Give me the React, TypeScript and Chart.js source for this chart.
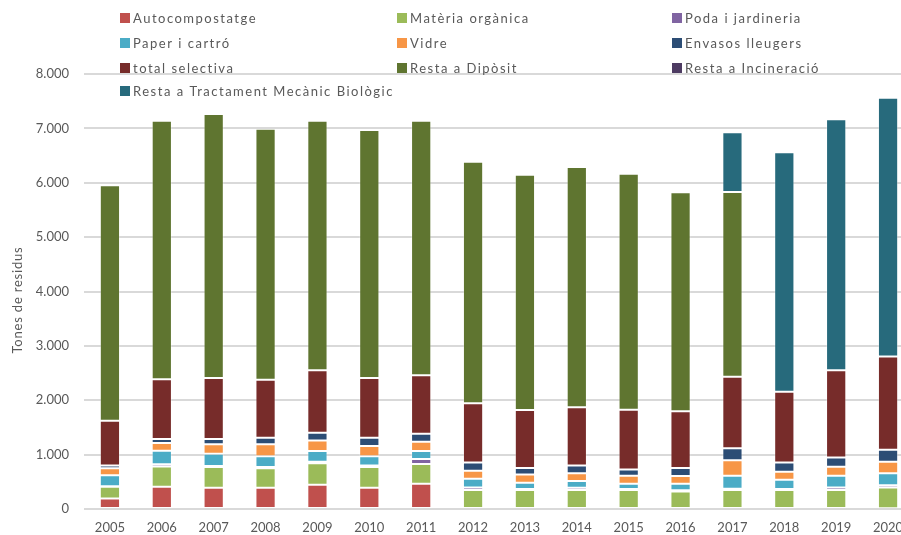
import React, { useEffect, useRef } from "react";
import { Chart, registerables } from "chart.js";

Chart.register(...registerables);

const years = ["2005", "2006", "2007", "2008", "2009", "2010", "2011", "2012", "2013", "2014", "2015", "2016", "2017", "2018", "2019", "2020"];

const autocompostatge = [195, 410, 390, 390, 445, 390, 463, 0, 0, 0, 0, 0, 0, 0, 0, 15];
const materiaOrganica = [213, 372, 384, 360, 396, 384, 366, 348, 348, 348, 348, 323, 348, 348, 348, 380];
const podaJardineria = [12, 43, 18, 24, 30, 24, 91, 49, 18, 43, 18, 24, 24, 18, 49, 43];
const paperCartro = [201, 244, 226, 195, 195, 171, 146, 159, 116, 122, 98, 116, 238, 171, 213, 220];
const vidre = [128, 146, 171, 220, 195, 189, 171, 146, 152, 146, 146, 146, 287, 146, 165, 213];
const envasosLleugers = [49, 73, 98, 122, 140, 152, 146, 152, 122, 140, 116, 146, 220, 171, 171, 220];
const totalSelectiva = [825, 1098, 1122, 1067, 1150, 1099, 1076, 1090, 1065, 1071, 1100, 1042, 1316, 1303, 1605, 1712];
const restaDiposit = [4329, 4756, 4855, 4616, 4590, 4561, 4682, 4443, 4327, 4420, 4340, 4027, 3397, 0, 0, 0];
const restaIncineracio = [0, 0, 0, 0, 0, 0, 0, 0, 0, 0, 0, 0, 0, 0, 0, 0];
const restaTMB = [0, 0, 0, 0, 0, 0, 0, 0, 0, 0, 0, 0, 1098, 4403, 4616, 4758];

const seriesNames = [
  "Autocompostatge",
  "Matèria orgànica",
  "Poda i jardineria",
  "Paper i cartró",
  "Vidre",
  "Envasos lleugers",
  "total selectiva",
  "Resta a Dipòsit",
  "Resta a Incineració",
  "Resta a Tractament Mecànic Biològic",
];
const seriesValues = [
  autocompostatge,
  materiaOrganica,
  podaJardineria,
  paperCartro,
  vidre,
  envasosLleugers,
  totalSelectiva,
  restaDiposit,
  restaIncineracio,
  restaTMB,
];
const seriesColors = [
  "#C0504D",
  "#9BBB59",
  "#8064A2",
  "#4BACC6",
  "#F79646",
  "#2C4D75",
  "#772C2A",
  "#5F7530",
  "#4D3B62",
  "#276A7C",
];

const yAxisTitle = "Tones de residus";
const TEXT = "#595959";
const FONT = "Lato, 'Open Sans', sans-serif";

const formatThousands = (v: number) => String(v).replace(/\B(?=(\d{3})+(?!\d))/g, ".");

// Three-column legend across the top and the rotated axis caption
const decorations = {
  id: "decorations",
  afterDraw(chart: any) {
    const ctx = chart.ctx as CanvasRenderingContext2D;
    const colX = [120, 397, 672];
    const rowY = [18, 43, 68, 91];
    ctx.save();
    ctx.font = `13px ${FONT}`;
    (ctx as any).letterSpacing = "1.5px";
    ctx.textBaseline = "middle";
    ctx.textAlign = "left";
    chart.data.datasets.forEach((ds: any, i: number) => {
      const x = colX[i % 3];
      const y = rowY[Math.floor(i / 3)];
      ctx.fillStyle = ds.backgroundColor;
      ctx.fillRect(x, y - 5, 10, 10);
      ctx.fillStyle = TEXT;
      ctx.fillText(ds.label, x + 13, y + 0.5);
    });
    ctx.translate(18, 300);
    ctx.rotate(-Math.PI / 2);
    ctx.textAlign = "center";
    (ctx as any).letterSpacing = "0.8px";
    ctx.fillText(yAxisTitle, 0, 0);
    ctx.restore();
  },
};

export default function App() {
  const canvasRef = useRef<HTMLCanvasElement | null>(null);

  useEffect(() => {
    const canvas = canvasRef.current;
    if (!canvas) return;
    const chart = new Chart(canvas, {
      type: "bar",
      data: {
        labels: years,
        datasets: seriesNames.map((name, i) => ({
          label: name,
          data: seriesValues[i],
          backgroundColor: seriesColors[i],
          borderColor: "rgba(255,255,255,0.3)",
          borderWidth: 1,
          borderSkipped: false,
          categoryPercentage: 1,
          barPercentage: 0.39,
        })),
      },
      options: {
        responsive: false,
        animation: false,
        devicePixelRatio: 1,
        layout: { padding: { top: 74, right: 6, bottom: 0, left: 0 } },
        plugins: {
          legend: { display: false },
          tooltip: { enabled: false },
          title: { display: false },
        },
        scales: {
          x: {
            stacked: true,
            grid: { display: false, drawTicks: false },
            border: { display: false },
            ticks: {
              color: TEXT,
              font: { family: FONT, size: 13 },
              padding: 11,
              maxRotation: 0,
              autoSkip: false,
            },
            afterFit: (scale: any) => {
              scale.height = 26;
            },
          },
          y: {
            stacked: true,
            min: 0,
            max: 8000,
            grid: { color: "#D9D9D9", lineWidth: 2, drawTicks: false },
            border: { display: false },
            ticks: {
              stepSize: 1000,
              color: TEXT,
              font: { family: FONT, size: 13 },
              padding: 15,
              callback: (v: any) => formatThousands(Number(v)),
            },
            afterFit: (scale: any) => {
              scale.width = 84;
            },
          },
        },
      },
      plugins: [decorations],
    });
    return () => chart.destroy();
  }, []);

  return (
    <div
      style={{
        position: "fixed",
        left: 0,
        top: 0,
        width: 901,
        height: 535,
        overflow: "hidden",
        background: "#fff",
      }}
    >
      <canvas ref={canvasRef} width={920} height={535} style={{ display: "block", width: 920, height: 535 }} />
    </div>
  );
}
